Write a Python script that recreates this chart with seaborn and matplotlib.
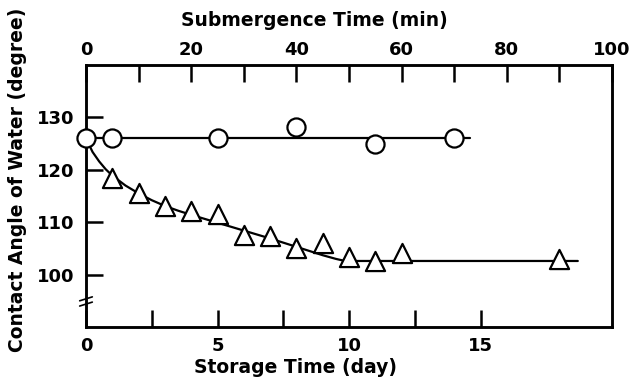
import matplotlib
matplotlib.use("Agg")
import matplotlib.pyplot as plt
import seaborn as sns

# circle series: submergence time (min, top axis)
circle_min = [0, 5, 25, 40, 55, 70]
circle_angle = [126.0, 126.0, 126.0, 128.1, 125.0, 126.0]
circle_line_min = [0, 73]
circle_line_angle = [126.0, 126.0]

# triangle series: storage time (day, bottom axis)
tri_day = [1, 2, 3, 4, 5, 6, 7, 8, 9, 10, 11, 12, 18]
tri_angle = [118.5, 115.6, 113.1, 112.2, 111.6, 107.6, 107.4, 105.1, 106.1, 103.4, 102.6, 104.2, 103.0]

# fitted curve
curve_day = [0, 0.25, 0.5, 0.75, 1, 1.5, 2, 2.5, 3, 3.5, 4, 5, 6, 7, 8, 8.5, 9, 9.5, 9.85, 12, 15, 18.7]
curve_angle = [126.0, 123.4, 121.6, 120.1, 118.9, 117.0, 115.5, 114.2, 113.1, 112.2, 111.4, 109.9, 108.4, 106.9, 105.3, 104.5, 103.7, 103.0, 102.6, 102.6, 102.6, 102.6]

y_ticks = [100, 110, 120, 130]
bottom_ticks = [0, 5, 10, 15]
bottom_minor = [2.5, 7.5, 12.5]
top_ticks = [0, 20, 40, 60, 80, 100]
top_minor = [10, 30, 50, 70, 90]

sns.set_style("white")
plt.rcParams['font.family'] = ['DejaVu Sans']
plt.rcParams['font.weight'] = 'bold'
plt.rcParams['text.color'] = 'black'
plt.rcParams['axes.labelcolor'] = 'black'
plt.rcParams['xtick.color'] = 'black'
plt.rcParams['ytick.color'] = 'black'

fig = plt.figure(figsize=(6.34, 3.86), dpi=100)
ax = fig.add_axes([86/634, 1-327/386, (612-86)/634, (327-65)/386])
ax2 = ax.twiny()

lw = 1.8
sns.lineplot(x=curve_day, y=curve_angle, ax=ax, color='black', lw=1.6, sort=False)
sns.scatterplot(x=tri_day, y=tri_angle, ax=ax, marker='^', s=190, facecolor='white',
                edgecolor='black', linewidth=1.6, zorder=5)
sns.lineplot(x=circle_line_min, y=circle_line_angle, ax=ax2, color='black', lw=1.6)
sns.scatterplot(x=circle_min, y=circle_angle, ax=ax2, marker='o', s=170, facecolor='white',
                edgecolor='black', linewidth=1.6, zorder=5, clip_on=False)

ax.set_xlim(0, 20)
ax.set_ylim(90, 140)
ax2.set_xlim(0, 100)

ax.set_xticks(bottom_ticks)
ax.set_xticks(bottom_minor, minor=True)
ax.set_yticks(y_ticks)
ax2.set_xticks(top_ticks)
ax2.set_xticks(top_minor, minor=True)

fs_tick = 13
for a in (ax, ax2):
    for s in a.spines.values():
        s.set_linewidth(lw)
        s.set_color('black')
ax.tick_params(axis='both', which='both', direction='in', length=12, width=1.8, labelsize=fs_tick, pad=7)
ax.tick_params(axis='y', pad=8)
ax.tick_params(axis='x', which='minor', labelbottom=False)
ax.tick_params(axis='y', left=True)
ax.tick_params(axis='x', bottom=True, which='both')
ax2.tick_params(axis='x', which='both', direction='in', length=12, width=1.8, labelsize=fs_tick, pad=4, top=True)
ax2.tick_params(axis='x', which='minor', labeltop=False)
ax.spines['left'].set_zorder(10)

ax.set_xlabel("Storage Time (day)", fontsize=13.5, fontweight='bold')
ax.xaxis.set_label_coords((295-86)/(612-86), -0.12)
ax2.set_xlabel("Submergence Time (min)", fontsize=13.5, fontweight='bold')
ax2.xaxis.set_label_coords((314-86)/(612-86), 1.15)
ax.set_ylabel("Contact Angle of Water (degree)", fontsize=13.5, fontweight='bold')
ax.yaxis.set_label_coords(-0.112, 0.56)

# axis break mark
for dy in (0.0, 0.02):
    ax.plot([-0.012, 0.012], [0.08 + dy, 0.095 + dy], transform=ax.transAxes,
            color='black', lw=1.2, clip_on=False, zorder=11)

fig.savefig("out.png", dpi=100)
